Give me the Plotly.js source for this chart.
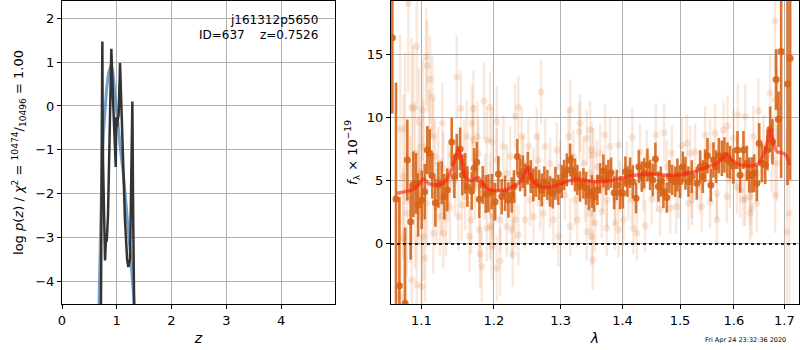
<!DOCTYPE html>
<html><head><meta charset="utf-8">
<script src="https://cdn.plot.ly/plotly-3.0.1.min.js"></script>
<style>html,body{margin:0;padding:0;background:#fff}#c{width:800px;height:350px}</style>
</head><body><div id="c"></div>
<script>
// ---- left panel: p(z) ----
const pzZ   = [0.700,0.712,0.725,0.737,0.745,0.768,0.777,0.786,0.800,0.818,0.840,0.870,0.901,0.930,0.960,0.982,0.990,1.005,1.020,1.035,1.060,1.100,1.150,1.190,1.212,1.243,1.265,1.285,1.300,1.316,1.330];
const pzVal = [-6.0,-4.5,-1.0,1.47,-1.0,-2.87,-3.2,-3.52,-3.1,-3.06,-2.5,-0.5,1.30,0.2,-0.9,-1.39,-0.26,-0.48,-0.30,-0.20,0.98,-0.8,-2.6,-3.5,-3.67,-3.48,-1.8,0.10,-2.5,-4.5,-6.0];
const fitZ   = [0.650,0.672,0.695,0.720,0.755,0.785,0.817,0.850,0.877,0.900,0.930,0.960,1.000,1.060,1.120,1.160,1.210,1.260,1.300,1.320,1.340];
const fitVal = [-6.0,-4.5,-3.5,-2.0,-0.64,0.0,0.42,0.75,0.90,0.95,0.75,0.35,-0.26,-0.9,-1.55,-2.1,-2.76,-3.5,-4.2,-4.6,-6.0];
const zTicks = [0,1,2,3,4];
const pTicks = [-4,-3,-2,-1,0,1,2];

// ---- right panel: spectrum ----
const faintLam = [
1.0723,1.0723,1.0766,1.0766,1.0788,1.0810,1.0830,1.0852,1.0874,1.0874,
1.0895,1.0918,1.0918,1.0940,1.0940,1.0961,1.0970,1.0983,1.1005,1.1019,
1.1027,1.1027,1.1049,1.1062,1.1071,1.1079,1.1106,1.1115,1.1146,1.1159,
1.1159,1.1182,1.1205,1.1226,1.1249,1.1272,1.1280,1.1294,1.1294,1.1331,
1.1362,1.1385,1.1408,1.1454,1.1477,1.1500,1.1533,1.1547,1.1579,1.1593,
1.1616,1.1652,1.1676,1.1686,1.1708,1.1708,1.1732,1.1764,1.1778,1.1792,
1.1802,1.1826,1.1859,1.1873,1.1898,1.1898,1.1945,1.1945,1.1945,1.1969,1.1969,
1.1969,1.1993,1.2041,1.2041,1.2041,1.2089,1.2089,1.2137,1.2187,1.2187,
1.2235,1.2260,1.2275,1.2284,1.2309,1.2309,1.2357,1.2357,1.2407,1.2432,
1.2457,1.2507,1.2532,1.2582,1.2582,1.2633,1.2657,1.2683,1.2698,1.2733,
1.2760,1.2836,1.2836,1.2887,1.2940,1.2964,1.2991,1.3070,1.3122,1.3148,
1.3148,1.3200,1.3227,1.3263,1.3295,1.3306,1.3359,1.3386,1.3413,1.3413,
1.3467,1.3467,1.3495,
1.3467,1.3495,1.3511,1.3520,1.3520,1.3548,1.3575,1.3629,1.3657,1.3683,
1.3712,1.3739,1.3739,1.3794,1.3877,1.3877,1.3932,1.3932,1.3960,1.4015,
1.4073,1.4100,1.4157,1.4167,1.4184,1.4242,1.4299,1.4356,1.4385,1.4414,
1.4501,1.4571,1.4588,1.4646,1.4717,1.4764,1.4823,1.4853,1.4930,1.4971,
1.5032,1.5123,1.5153,1.5183,1.5214,
1.5214,1.5274,1.5366,1.5397,1.5459,1.5551,1.5551,1.5645,1.5677,1.5677,
1.5802,1.5866,1.5878,1.5929,1.5992,1.6057,1.6076,1.6121,1.6185,1.6218,
1.6218,1.6315,1.6315,1.6348,1.6380,1.6447,1.6447,1.6479,1.6578,1.6711,
1.6745,1.6812,1.6812,1.6812,1.6846,1.6858,1.7048,1.7101];
const faintFlux = [
9.06,-4.16,5.32,0.45,9.14,2.42,19.0,3.48,10.8,-2.84,
10.7,2.55,7.16,15.6,-3.24,3.87,9.66,5.71,-3.37,10.6,
0.58,7.69,-1.13,14.8,3.21,14.1,9.0,13.0,11.6,8.48,
0.85,6.90,2.95,6.37,2.16,3.74,9.53,0.85,5.98,2.03,
5.06,2.95,7.03,5.06,13.2,2.16,10.7,3.08,6.90,3.74,
8.48,0.58,1.90,9.53,10.7,8.21,4.53,8.48,7.16,1.11,
-0.79,-1.79,11.3,4.53,1.24,8.21,10.8,1.37,4.66,8.08,2.95,
-0.21,2.16,9.66,6.63,-1.92,1.90,-1.40,7.69,1.37,5.58,
6.90,1.11,-0.79,3.48,10.1,1.90,10.8,0.71,8.48,6.37,
1.90,7.69,3.48,2.16,5.58,8.48,6.63,3.21,12.0,2.42,
7.69,3.34,6.37,1.90,7.42,0.58,6.10,3.87,8.48,10.6,
1.37,6.90,3.48,1.90,8.87,9.53,6.37,3.74,8.35,0.97,
9.0,2.42,7.42,
5.58,0.58,-1.26,7.03,3.48,1.64,6.10,7.16,2.55,4.53,
8.61,3.48,1.24,7.69,3.48,1.64,7.82,1.11,4.53,1.90,
6.10,4.0,3.48,8.43,1.24,0.85,7.29,4.53,1.42,6.90,
3.53,8.61,4.53,2.74,8.79,6.10,2.82,7.16,2.95,4.0,
7.77,7.95,3.21,7.16,4.0,
3.48,7.29,4.53,2.95,8.61,7.69,3.34,8.74,4.0,1.90,
9.0,3.74,9.32,5.06,8.35,4.53,10.2,4.27,3.48,10.1,
3.61,3.74,2.42,2.82,8.48,3.21,5.58,10.5,7.69,11.9,
6.90,17.6,11.4,3.87,6.37,10.8,0.97,2.42];
const faintErr = [
7.5,6.0,6.5,5.5,6.0,5.0,7.0,5.0,5.5,4.5,
5.0,4.5,4.0,5.0,4.0,4.0,4.2,3.8,4.0,4.0,
3.5,3.6,3.5,3.8,3.4,3.6,3.2,3.5,3.2,3.0,
3.2,3.0,3.0,2.9,3.1,3.0,3.2,2.8,2.9,3.0,
2.8,2.9,3.0,2.8,3.3,2.7,3.0,2.8,2.9,2.7,
2.9,2.8,2.7,3.0,3.0,2.8,2.6,2.8,2.7,2.6,
2.7,2.8,3.0,2.6,2.6,2.7,2.8,2.6,2.5,2.7,2.6,
2.6,2.5,2.8,2.5,2.6,2.5,2.7,2.5,2.4,2.3,
2.4,2.3,2.6,2.2,2.6,2.3,2.5,2.4,2.3,2.2,
2.3,2.2,2.1,2.2,2.0,2.3,2.1,2.2,2.6,2.3,
2.2,2.1,2.0,2.3,2.2,2.4,2.1,2.0,2.2,2.4,
2.3,2.1,2.0,2.2,2.3,2.3,2.1,2.0,2.2,2.3,
2.3,2.1,2.2,
2.2,2.3,2.4,2.1,2.0,2.2,2.1,2.3,2.1,2.0,
2.4,2.1,2.2,2.3,2.0,2.1,2.2,2.2,2.0,2.1,
2.0,2.1,2.0,2.3,2.1,2.2,2.2,2.0,2.1,2.1,
2.0,2.4,2.0,2.1,2.3,2.1,2.0,2.2,2.1,2.0,
2.2,2.3,2.1,2.2,2.0,
2.0,2.2,2.1,2.0,2.3,2.2,2.1,2.3,2.1,2.0,
2.3,2.1,2.4,2.2,2.3,2.2,2.5,2.2,2.1,2.5,
2.2,2.3,2.2,2.2,2.4,2.3,2.3,2.6,2.5,3.0,
2.8,4.0,3.5,3.0,3.0,3.2,8.0,9.0];

const binLam = [
1.0624,1.0671,1.0714,1.0787,1.0817,1.0861,1.0895,1.0930,1.0957,1.1005,
1.1045,1.1079,1.1111,1.1146,1.1186,1.1227,1.1272,1.1308,1.1348,1.1408,
1.1444,1.1477,1.1523,1.1554,1.1592,1.1624,1.1685,1.1718,1.1756,1.1792,
1.1841,1.1883,1.1920,1.1969,1.2017,1.2064,1.2113,1.2161,1.2210,1.2260,
1.2293,1.2342,1.2382,1.2422,1.2457,1.2497,1.2542,1.2581,1.2622,1.2668,
1.2709,1.2748,1.2794,1.2836,1.2877,1.2918,1.2964,1.3017,1.3053,1.3096,
1.3148,1.3179,1.3226,1.3263,1.3306,1.3359,1.3402,1.3446,1.3494,1.3531,
1.3585,1.3629,1.3683,1.3727,1.3765,1.3810,1.3860,1.3905,1.3960,1.4005,
1.4049,1.4083,1.4128,1.4174,1.4230,1.4277,1.4328,1.4368,1.4425,1.4471,
1.4518,1.4564,1.4616,1.4658,1.4704,1.4764,1.4810,1.4858,1.4912,1.4953,
1.5001,1.5050,1.5097,1.5152,1.5213,1.5305,1.5366,1.5415,1.5458,1.5501,
1.5564,1.5613,1.5663,1.5714,1.5771,1.5820,1.5877,1.5929,1.5992,1.6069,
1.6121,1.6185,1.6251,1.6296,1.6349,1.6394,1.6447,1.6493,1.6546,1.6612,
1.6658,1.6712,1.6758,1.6832,1.6879,1.6933,1.7062,1.7117];
const binFlux = [
16.3,3.55,-3.3,-4.7,6.63,1.76,4.71,4.79,3.08,3.47,
4.13,7.42,7.16,5.37,3.26,4.66,4.84,3.74,4.27,8.06,
5.32,6.90,7.50,5.45,5.58,4.53,4.19,5.98,6.45,3.53,
4.66,3.95,4.00,4.13,3.34,5.53,3.74,4.00,3.47,3.87,
4.53,6.90,5.45,5.71,5.06,5.98,5.32,4.66,4.92,4.66,
4.27,4.92,4.66,4.13,4.00,4.79,4.27,4.92,5.45,5.85,
6.63,5.85,5.45,5.06,4.53,4.79,4.40,3.87,4.13,3.74,
4.27,5.19,5.77,5.06,5.45,5.63,4.05,4.66,4.05,4.00,
5.71,4.92,5.63,4.92,3.61,6.10,5.32,5.58,6.24,5.45,
5.06,6.71,4.53,4.92,4.13,3.66,5.32,5.06,4.92,5.45,
4.92,6.10,5.58,4.92,5.32,4.79,6.10,5.32,6.18,6.97,
4.66,6.63,6.10,6.97,6.77,7.03,6.63,6.45,6.16,7.42,
5.45,7.42,6.37,5.45,5.45,5.58,4.79,7.95,6.37,6.24,
7.42,9.06,8.08,13.0,9.85,15.2,12.64,14.67];
const binErr = [
6.0,9.2,7.0,6.0,3.2,3.0,2.6,2.4,2.5,2.3,
2.2,1.9,1.9,1.8,1.9,1.8,1.7,1.8,1.7,1.9,
1.7,1.8,1.7,1.6,1.6,1.6,1.5,1.6,1.6,1.5,
1.5,1.5,1.5,1.4,1.5,1.4,1.4,1.4,1.4,1.4,
1.3,1.4,1.3,1.3,1.3,1.3,1.3,1.3,1.2,1.2,
1.3,1.2,1.2,1.2,1.2,1.3,1.2,1.3,1.2,1.3,
1.3,1.2,1.3,1.2,1.2,1.2,1.3,1.2,1.3,1.2,
1.2,1.2,1.3,1.2,1.2,1.2,1.3,1.2,1.3,1.2,
1.2,1.2,1.2,1.3,1.2,1.3,1.2,1.2,1.3,1.2,
1.3,1.3,1.2,1.2,1.3,1.2,1.3,1.2,1.2,1.3,
1.3,1.2,1.3,1.2,1.3,1.3,1.3,1.3,1.3,1.4,
1.3,1.4,1.3,1.4,1.4,1.4,1.4,1.3,1.4,1.5,
1.4,1.5,1.4,1.4,1.4,1.5,1.4,1.6,1.5,1.5,
1.6,1.8,1.8,2.4,2.2,10.0,8.0,9.6];

const modelLam = [1.0680,1.0852,1.0940,1.1026,1.1093,1.1205,1.1317,1.1385,1.1454,1.1500,1.1547,1.1593,1.1663,1.1779,1.1850,1.1946,1.2090,1.2236,1.2384,1.2458,1.2499,1.2559,1.2659,1.2812,1.2967,1.3123,1.3256,1.3416,1.3550,1.3796,1.4018,1.4245,1.4474,1.4707,1.4945,1.5125,1.5276,1.5429,1.5679,1.5868,1.5964,1.6123,1.6318,1.6481,1.6614,1.6714,1.6780,1.6849,1.6983,1.7052,1.7100];
const modelFlux = [4.00,4.21,4.50,5.13,4.79,4.66,4.92,5.58,6.70,7.50,6.63,5.32,4.98,5.24,4.66,4.27,4.21,4.40,4.92,5.58,5.98,5.06,4.58,4.45,4.66,4.98,5.11,5.00,4.92,5.00,5.24,5.45,5.53,5.45,5.40,5.58,5.71,5.98,6.37,7.11,6.63,6.24,6.16,6.37,7.42,9.00,7.95,7.29,7.16,6.90,6.24];
const lamTicks = [1.1,1.2,1.3,1.4,1.5,1.6,1.7];
const lamTickText = ['1.1','1.2','1.3','1.4','1.5','1.6','1.7'];
const fTicks = [0,5,10,15];

const FONT = 'DejaVu Sans, sans-serif';
const ORANGE = 'rgba(214,98,20,';

const traces = [
  {x: fitZ, y: fitVal, xaxis:'x', yaxis:'y', mode:'lines', line:{color:'rgba(90,145,195,0.85)', width:3}, hoverinfo:'skip'},
  {x: pzZ, y: pzVal, xaxis:'x', yaxis:'y', mode:'lines', line:{color:'#333333', width:2.5}, hoverinfo:'skip'},
  {x: faintLam, y: faintFlux, xaxis:'x2', yaxis:'y2', mode:'markers',
   marker:{size:7, color: ORANGE+'0.15)', line:{width:0}},
   error_y:{type:'data', array: faintErr, visible:true, color: ORANGE+'0.15)', thickness:2.5, width:0}},
  {x: binLam, y: binFlux, xaxis:'x2', yaxis:'y2', mode:'markers',
   marker:{size:7, color: ORANGE+'0.88)', line:{width:0}},
   error_y:{type:'data', array: binErr, visible:true, color: ORANGE+'0.88)', thickness:2.6, width:0}},
  {x: modelLam, y: modelFlux, xaxis:'x2', yaxis:'y2', mode:'lines',
   line:{color:'rgba(255,30,20,0.6)', width:3.5, shape:'spline', smoothing:0.6}}
];

const axBase = {showline:true, mirror:true, linecolor:'black', linewidth:1,
  ticks:'outside', ticklen:4, tickcolor:'black', tickwidth:1,
  showgrid:true, gridcolor:'#b0b0b0', gridwidth:1, zeroline:false,
  tickfont:{family:FONT, size:13, color:'black'}, automargin:false};

const layout = {
  width:800, height:350, showlegend:false, paper_bgcolor:'white', plot_bgcolor:'white',
  margin:{l:62, r:1, t:1, b:46},
  font:{family:FONT, color:'black'},
  xaxis: Object.assign({}, axBase, {domain:[0,0.370], range:[0,4.98], tickvals:zTicks,
     title:{text:'<i>z</i>', font:{family:FONT, size:14}, standoff:6}}),
  yaxis: Object.assign({}, axBase, {domain:[0,1], range:[-4.51,2.39], tickvals:pTicks,
     title:{text:'log <i>p</i>(<i>z</i>) / <i>χ</i><sup>2</sup> = <sup>10474</sup>/<sub>10496</sub> = 1.00', font:{family:FONT, size:13}, standoff:8}}),
  xaxis2: Object.assign({}, axBase, {anchor:'y2', domain:[0.4464,1], type:'log', range:[0.02559,0.23803],
     tickvals:lamTicks, ticktext:lamTickText,
     title:{text:'<i>λ</i>', font:{family:FONT, size:14}, standoff:6}}),
  yaxis2: Object.assign({}, axBase, {anchor:'x2', domain:[0,1], range:[-4.75,19.2], tickvals:fTicks,
     title:{text:'<i>f</i><sub>λ</sub> × 10<sup>−19</sup>', font:{family:FONT, size:13}, standoff:6}}),
  shapes:[{type:'line', xref:'x2 domain', x0:0, x1:1, yref:'y2', y0:0, y1:0,
     line:{color:'#222', width:2, dash:'dot'}}],
  annotations:[
    {xref:'x domain', yref:'y domain', x:0.946, y:0.937, xanchor:'right', yanchor:'middle', showarrow:false,
     text:'j161312p5650', font:{family:FONT, size:12, color:'black'}},
    {xref:'x domain', yref:'y domain', x:0.946, y:0.888, xanchor:'right', yanchor:'middle', showarrow:false,
     text:'ID=637    z=0.7526', font:{family:FONT, size:12, color:'black'}},
    {xref:'paper', yref:'paper', x:0.985, y:-0.119, xanchor:'right', yanchor:'middle', showarrow:false,
     text:'Fri Apr 24 23:32:36 2020', font:{family:FONT, size:6.5, color:'black'}}
  ]
};

Plotly.newPlot('c', traces, layout, {staticPlot:true, displayModeBar:false});
</script>
</body></html>
